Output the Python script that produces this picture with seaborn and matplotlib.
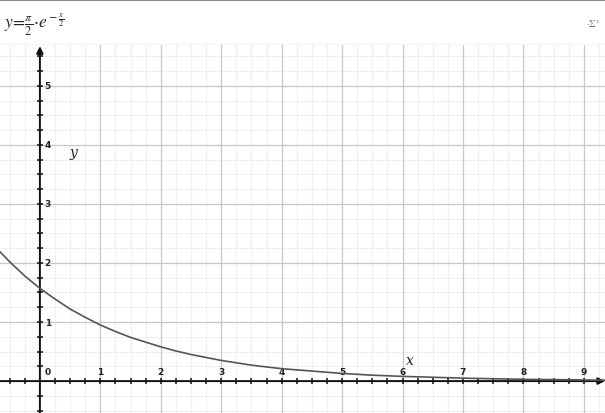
import matplotlib
matplotlib.use("Agg")
import matplotlib.pyplot as plt
import numpy as np
import pandas as pd
import seaborn as sns

# values
x_vals = [-0.66, -0.5, -0.25, 0.0, 0.25, 0.5, 0.75, 1.0, 1.25, 1.5, 1.75, 2.0,
          2.25, 2.5, 2.75, 3.0, 3.5, 4.0, 4.5, 5.0, 5.5, 6.0, 7.0, 8.0, 9.0, 9.35]
y_vals = [2.19, 2.02, 1.78, 1.57, 1.39, 1.22, 1.08, 0.95, 0.84, 0.74, 0.66, 0.58,
          0.51, 0.45, 0.40, 0.35, 0.27, 0.21, 0.17, 0.13, 0.10, 0.08, 0.05, 0.03, 0.02, 0.015]
x_ticks = [0, 1, 2, 3, 4, 5, 6, 7, 8, 9]
y_ticks = [1, 2, 3, 4, 5]
x_range = (-0.66, 9.35)
y_range = (-0.54, 5.69)

sns.set_theme(style="white")
plt.rcParams["mathtext.fontset"] = "stix"

W, H = 605, 414
fig = plt.figure(figsize=(W / 100, H / 100), dpi=100)

# header strip with the formula
head = fig.add_axes([0, 1 - 46 / H, 1, 46 / H])
head.set_xlim(0, W)
head.set_ylim(0, 46)
head.set_xticks([])
head.set_yticks([])
for s in head.spines.values():
    s.set_visible(False)
head.axhline(45.5, color="#888888", lw=1.5)
head.axhline(0.5, color="#cccccc", lw=1)
head.text(4, 21, r"$y\!=\!\frac{\pi}{2}\!\cdot\! e^{\!-\frac{x}{2}}$", fontsize=12.5,
          va="center", ha="left", color="#222222")
head.text(601, 22, r"$\cdot\Sigma^{x}$", fontsize=7.5, va="center", ha="right", color="#777777")

# plot area
ax = fig.add_axes([0, 0, 1, 1 - 46 / H])
ax.set_xlim(*x_range)
ax.set_ylim(*y_range)
for s in ax.spines.values():
    s.set_visible(False)

minor_x = np.arange(-0.5, 9.5, 0.25)
minor_y = np.arange(-0.5, 5.75, 0.25)
for v in minor_x:
    ax.axvline(v, color="#efefef", lw=0.8, zorder=0)
for v in minor_y:
    ax.axhline(v, color="#efefef", lw=0.8, zorder=0)
for v in x_ticks[1:]:
    ax.axvline(v, color="#c8c8c8", lw=0.9, zorder=1)
for v in y_ticks:
    ax.axhline(v, color="#c8c8c8", lw=0.9, zorder=1)

# axes through the origin with arrows
ax.annotate("", xy=(x_range[1], 0), xytext=(x_range[0], 0),
            arrowprops=dict(arrowstyle="-|>", color="#111111", lw=1.4,
                            mutation_scale=10, shrinkA=0, shrinkB=0), zorder=3)
ax.annotate("", xy=(0, y_range[1] - 0.02), xytext=(0, y_range[0]),
            arrowprops=dict(arrowstyle="-|>", color="#111111", lw=1.4,
                            mutation_scale=10, shrinkA=0, shrinkB=0), zorder=3)

# small tick marks on the axes
tx = minor_x[(minor_x != 0)]
ax.plot(tx, np.zeros_like(tx), ls="none", marker="|", ms=5, mew=1.1, color="#111111", zorder=3)
ty = minor_y[(minor_y != 0) & (minor_y < 5.6)]
ax.plot(np.zeros_like(ty), ty, ls="none", marker="_", ms=5, mew=1.1, color="#111111", zorder=3)

for v in x_ticks:
    ax.text(v + (0.13 if v == 0 else 0), 0.16, str(v), fontsize=6.5, ha="center",
            va="center", color="#222222", fontweight="bold")
for v in y_ticks:
    ax.text(0.08, v, str(v), fontsize=6.5, ha="left", va="center",
            color="#222222", fontweight="bold")

ax.text(6.13, 0.36, "x", fontsize=10, style="italic", family="serif",
        ha="center", va="center", color="#222222")
ax.text(0.55, 3.88, "y", fontsize=10, style="italic", family="serif",
        ha="center", va="center", color="#222222")

df = pd.DataFrame({"x": x_vals, "y": y_vals})
sns.lineplot(data=df, x="x", y="y", ax=ax, color="#555555", lw=1.2, zorder=4)
ax.set_xlabel("")
ax.set_ylabel("")
ax.set_xticks([])
ax.set_yticks([])
ax.set_xlim(*x_range)
ax.set_ylim(*y_range)

fig.savefig("out.png", dpi=100)
